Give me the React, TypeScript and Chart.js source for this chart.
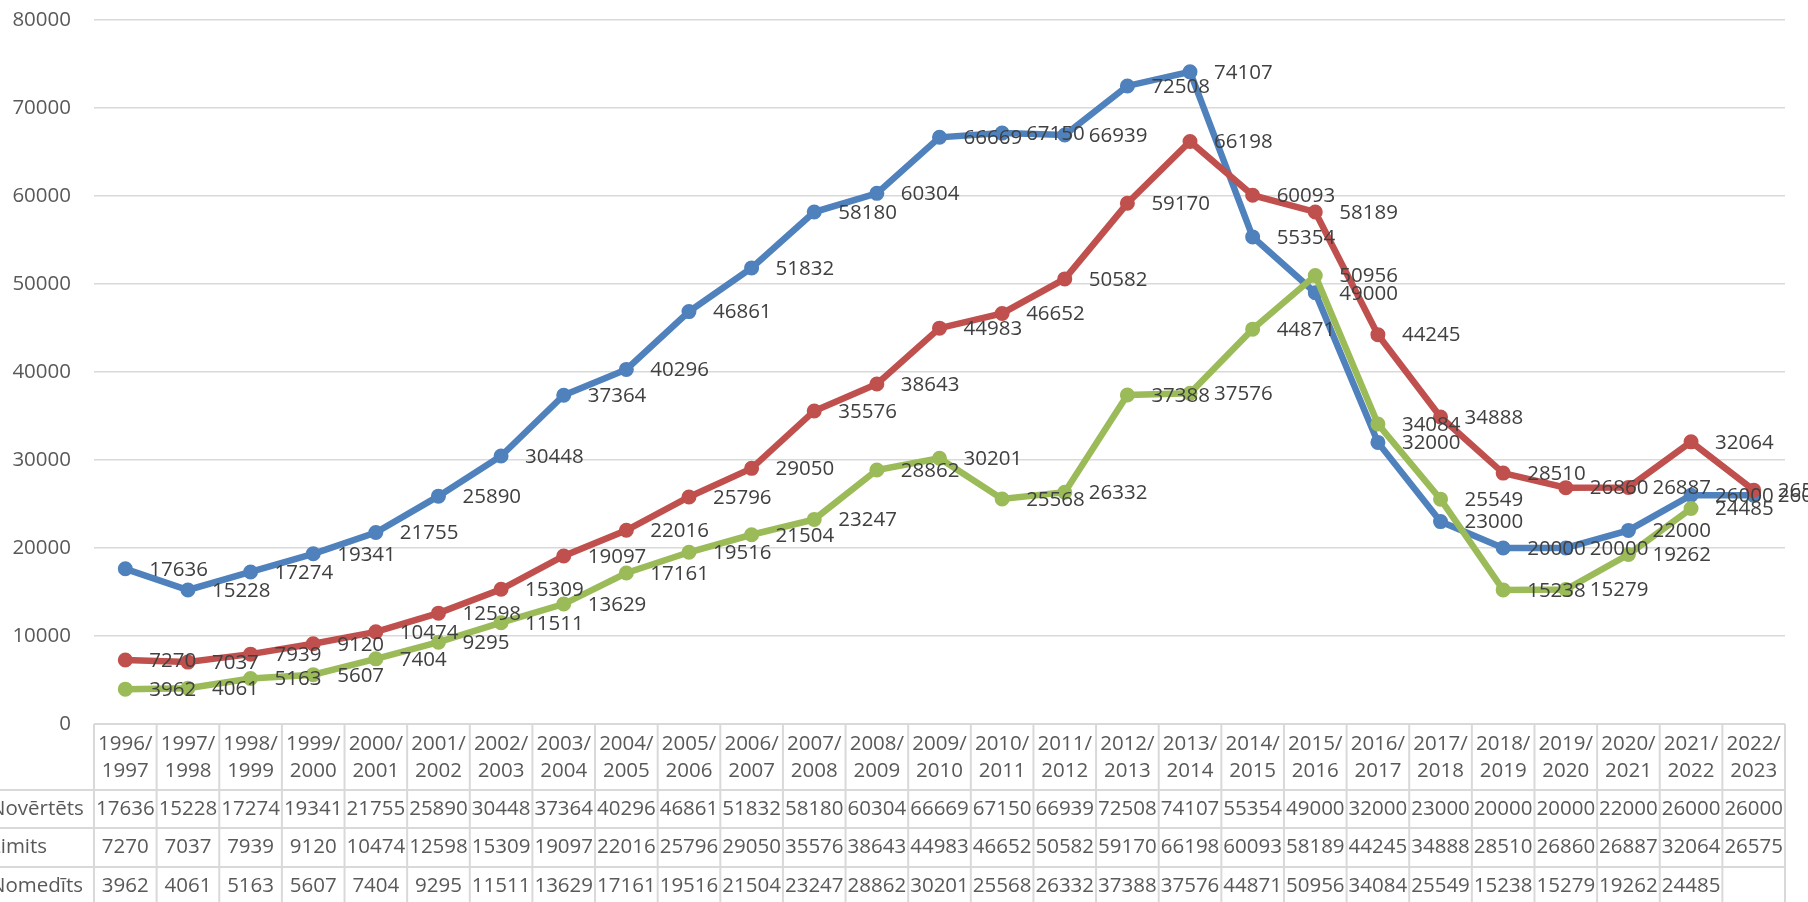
import React, { useEffect, useRef } from "react";
import { Chart, registerables } from "chart.js";

Chart.register(...registerables);

const categories = [
  "1996/1997", "1997/1998", "1998/1999", "1999/2000", "2000/2001", "2001/2002",
  "2002/2003", "2003/2004", "2004/2005", "2005/2006", "2006/2007", "2007/2008",
  "2008/2009", "2009/2010", "2010/2011", "2011/2012", "2012/2013", "2013/2014",
  "2014/2015", "2015/2016", "2016/2017", "2017/2018", "2018/2019", "2019/2020",
  "2020/2021", "2021/2022", "2022/2023",
];

const novertets = [
  17636, 15228, 17274, 19341, 21755, 25890, 30448, 37364, 40296, 46861, 51832,
  58180, 60304, 66669, 67150, 66939, 72508, 74107, 55354, 49000, 32000, 23000,
  20000, 20000, 22000, 26000, 26000,
];

const limits = [
  7270, 7037, 7939, 9120, 10474, 12598, 15309, 19097, 22016, 25796, 29050,
  35576, 38643, 44983, 46652, 50582, 59170, 66198, 60093, 58189, 44245, 34888,
  28510, 26860, 26887, 32064, 26575,
];

const nomedits: (number | null)[] = [
  3962, 4061, 5163, 5607, 7404, 9295, 11511, 13629, 17161, 19516, 21504,
  23247, 28862, 30201, 25568, 26332, 37388, 37576, 44871, 50956, 34084, 25549,
  15238, 15279, 19262, 24485, null,
];

const seriesNames = ["Novērtēts", "Limits", "Nomedīts"];
const seriesColors = ["#4F81BD", "#C0504D", "#9BBB59"];
const yMin = 0;
const yMax = 80000;
const yStep = 10000;

const FONT_FAMILY = "'Open Sans', sans-serif";
const FONT_SIZE = 20.5;
const GRID = "#D9D9D9";
const TEXT = "#595959";
const LABEL = "#404040";

const dataLabelPlugin = {
  id: "dataLabels",
  afterDatasetsDraw(chart: any) {
    const ctx = chart.ctx;
    ctx.save();
    ctx.font = `${FONT_SIZE}px ${FONT_FAMILY}`;
    ctx.fillStyle = LABEL;
    ctx.textAlign = "left";
    ctx.textBaseline = "middle";
    chart.data.datasets.forEach((ds: any, i: number) => {
      const meta = chart.getDatasetMeta(i);
      meta.data.forEach((pt: any, j: number) => {
        const v = ds.data[j];
        if (v === null || v === undefined) return;
        ctx.fillText(String(v), pt.x + 24, pt.y + 1);
      });
    });
    ctx.restore();
  },
};

const tablePlugin = {
  id: "dataTable",
  afterDraw(chart: any) {
    const ctx = chart.ctx;
    const area = chart.chartArea;
    const xs = chart.scales.x;
    const n = categories.length;
    const colW = (area.right - area.left) / n;
    const top = area.bottom;
    const headerBottom = top + 66;
    const rowBounds = [headerBottom, headerBottom + 38, headerBottom + 77, headerBottom + 115];
    const bottom = chart.height + 5;

    ctx.save();
    ctx.strokeStyle = GRID;
    ctx.lineWidth = 2;
    ctx.beginPath();
    ctx.moveTo(area.left, top);
    ctx.lineTo(area.right, top);
    ctx.stroke();
    for (let r = 0; r < 3; r++) {
      ctx.beginPath();
      ctx.moveTo(0, rowBounds[r]);
      ctx.lineTo(area.right, rowBounds[r]);
      ctx.stroke();
    }
    for (let c = 0; c <= n; c++) {
      const x = area.left + c * colW;
      ctx.beginPath();
      ctx.moveTo(x, top);
      ctx.lineTo(x, bottom);
      ctx.stroke();
    }

    ctx.font = `${FONT_SIZE}px ${FONT_FAMILY}`;
    ctx.fillStyle = TEXT;
    ctx.textBaseline = "middle";
    ctx.textAlign = "center";
    categories.forEach((cat, i) => {
      const cx = xs.getPixelForValue(i);
      const parts = cat.split("/");
      ctx.fillText(parts[0] + "/", cx, top + 20);
      ctx.fillText(parts[1], cx, top + 47);
    });

    const rows = [novertets, limits, nomedits];
    rows.forEach((row, r) => {
      const cy = (rowBounds[r] + rowBounds[r + 1]) / 2;
      ctx.textAlign = "left";
      ctx.fillText(seriesNames[r], -10, cy);
      ctx.textAlign = "center";
      row.forEach((v, i) => {
        if (v === null || v === undefined) return;
        ctx.fillText(String(v), xs.getPixelForValue(i), cy);
      });
    });
    ctx.restore();
  },
};

export default function App() {
  const canvasRef = useRef<HTMLCanvasElement | null>(null);

  useEffect(() => {
    document.body.style.margin = "0";
    const canvas = canvasRef.current;
    if (!canvas) return;
    const series = [novertets, limits, nomedits];
    const chart = new Chart(canvas, {
      type: "line",
      data: {
        labels: categories,
        datasets: series.map((d, i) => ({
          label: seriesNames[i],
          data: d,
          borderColor: seriesColors[i],
          backgroundColor: seriesColors[i],
          pointBackgroundColor: seriesColors[i],
          pointBorderColor: seriesColors[i],
          borderWidth: 6.5,
          pointRadius: 6.75,
          pointBorderWidth: 1.5,
          pointHoverRadius: 6.75,
          tension: 0,
          spanGaps: false,
          clip: false,
          order: 3 - i,
        })),
      },
      options: {
        responsive: false,
        animation: false,
        devicePixelRatio: 1,
        layout: { autoPadding: false, padding: { top: 20, right: 23, bottom: 178, left: 0 } },
        plugins: {
          legend: { display: false },
          tooltip: { enabled: false },
          title: { display: false },
        },
        scales: {
          x: {
            type: "category",
            display: false,
            offset: true,
          },
          y: {
            min: yMin,
            max: yMax,
            border: { display: false },
            grid: { color: GRID, lineWidth: 1.5, drawTicks: false },
            ticks: {
              stepSize: yStep,
              color: TEXT,
              padding: 23,
              font: { family: FONT_FAMILY, size: FONT_SIZE },
              callback: (v: any) => String(v),
            },
            afterFit(scale: any) {
              scale.width = 94;
              scale.paddingTop = 0;
              scale.paddingBottom = 0;
            },
          },
        },
      },
      plugins: [dataLabelPlugin, tablePlugin],
    });
    return () => chart.destroy();
  }, []);

  return (
    <div style={{ width: 1808, height: 902, background: "#fff" }}>
      <canvas ref={canvasRef} width={1808} height={902} style={{ display: "block" }} />
    </div>
  );
}
